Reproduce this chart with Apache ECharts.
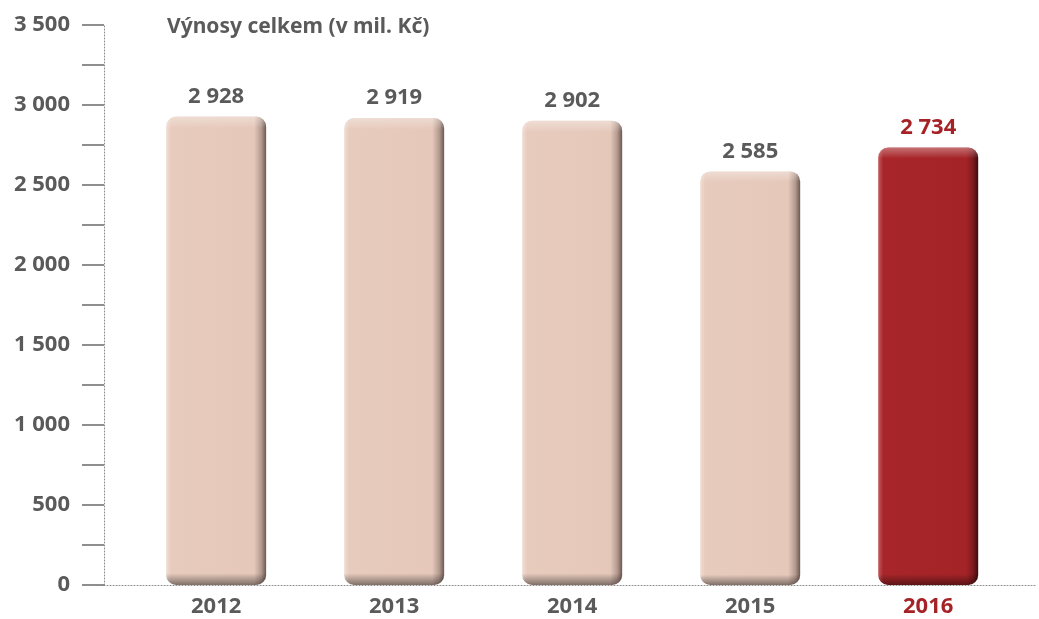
<!DOCTYPE html>
<html>
<head>
<meta charset="utf-8">
<script src="https://cdn.jsdelivr.net/npm/echarts@6/dist/echarts.min.js"></script>
<style>
  html, body { margin: 0; padding: 0; background: #fff; }
  #chart { width: 1039px; height: 619px; }
</style>
</head>
<body>
<div id="chart"></div>
<script>
// data
const years = [2012, 2013, 2014, 2015, 2016]
const revenue = [2928, 2919, 2902, 2585, 2734]
const yTicks = [0, 500, 1000, 1500, 2000, 2500, 3000, 3500]
const highlightYear = 2016

const GRAY = '#5a5a5a'
const RED = '#a52327'
const FONT = '"Noto Sans", "Open Sans", sans-serif'

const fmt = v => String(v).replace(/\B(?=(\d{3})+(?!\d))/g, ' ')

// horizontal shading of a bar (light left rim, dark right edge)
const sideShade = (hi) => ({
  type: 'linear', x: 0, y: 0, x2: 1, y2: 0,
  colorStops: hi ? [
    { offset: 0, color: '#c65a5d' },
    { offset: 0.05, color: '#a8262a' },
    { offset: 0.88, color: '#a42327' },
    { offset: 0.95, color: '#7c1a1d' },
    { offset: 1, color: '#3c0c0e' }
  ] : [
    { offset: 0, color: '#f1ddd4' },
    { offset: 0.05, color: '#e7cbbd' },
    { offset: 0.88, color: '#e5c8ba' },
    { offset: 0.95, color: '#b49b90' },
    { offset: 1, color: '#6c5851' }
  ]
})

// vertical overlay: light top rim, dark bottom shadow
const topBottomShade = {
  type: 'linear', x: 0, y: 0, x2: 0, y2: 1,
  colorStops: [
    { offset: 0, color: 'rgba(255,255,255,0.35)' },
    { offset: 0.025, color: 'rgba(255,255,255,0)' },
    { offset: 0.975, color: 'rgba(0,0,0,0)' },
    { offset: 1, color: 'rgba(0,0,0,0.45)' }
  ]
}

const chart = echarts.init(document.getElementById('chart'))

const option = {
  animation: false,
  title: {
    text: 'Výnosy celkem (v mil. Kč)',
    left: 167,
    top: 17,
    padding: 0,
    textStyle: { color: GRAY, fontFamily: FONT, fontWeight: 'bold', fontSize: 21 }
  },
  grid: { left: 104, right: 4, top: 25, bottom: 34 },
  xAxis: {
    type: 'value',
    min: 2011.37,
    max: 2016.6,
    splitLine: { show: false },
    axisTick: { show: false },
    axisLine: { show: true, lineStyle: { color: '#8a8a8a', type: [1, 2], width: 1 } },
    axisLabel: {
      customValues: years,
      margin: 11,
      fontFamily: FONT,
      fontWeight: 'bold',
      fontSize: 22,
      color: GRAY,
      formatter: v => v === highlightYear ? '{hl|' + v + '}' : String(v),
      rich: { hl: { color: RED, fontFamily: FONT, fontWeight: 'bold', fontSize: 22 } }
    }
  },
  yAxis: {
    type: 'value',
    min: yTicks[0],
    max: yTicks[yTicks.length - 1],
    interval: 500,
    splitLine: { show: false },
    axisLine: { show: true, lineStyle: { color: '#8a8a8a', type: [1, 2], width: 1 } },
    axisTick: { show: true, length: 22, lineStyle: { color: '#6a6a6a', width: 1.5 } },
    minorTick: { show: true, splitNumber: 2, length: 22, lineStyle: { color: '#6a6a6a', width: 1.5 } },
    axisLabel: {
      margin: 34,
      fontFamily: FONT,
      fontWeight: 'bold',
      fontSize: 22,
      color: GRAY,
      formatter: v => fmt(v)
    }
  },
  series: [
    {
      type: 'bar',
      barWidth: 100,
      data: years.map((y, i) => ({
        value: [y, revenue[i]],
        itemStyle: { color: sideShade(y === highlightYear), borderRadius: 10 },
        label: { color: y === highlightYear ? RED : GRAY }
      })),
      label: {
        show: true,
        position: 'top',
        distance: 9,
        fontFamily: FONT,
        fontWeight: 'bold',
        fontSize: 22,
        formatter: p => fmt(p.value[1])
      }
    },
    {
      type: 'bar',
      barWidth: 100,
      barGap: '-100%',
      silent: true,
      data: years.map((y, i) => [y, revenue[i]]),
      itemStyle: { color: topBottomShade, borderRadius: 10 }
    }
  ]
}

chart.setOption(option)
</script>
</body>
</html>
